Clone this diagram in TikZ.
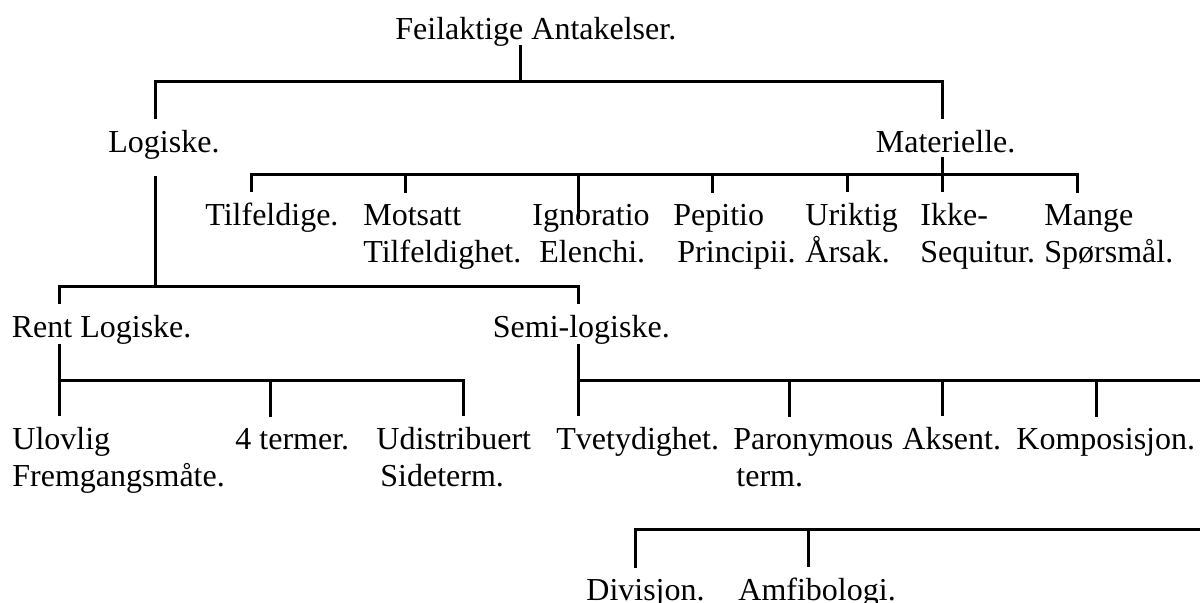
\documentclass[tikz,border=0pt]{standalone}
\usepackage{fontspec}
\setmainfont{Liberation Serif}
\begin{document}
\begin{tikzpicture}[x=0.5pt,y=-0.5pt,
  lbl/.style={anchor=base west,inner xsep=0pt,inner ysep=5.2pt,align=left,font=\fontsize{16}{18.5}\selectfont},
  ln/.style={line width=1.5pt}]
\useasboundingbox (0,0) rectangle (1200,602);
% top level
\node[lbl] (root) at (395,39) {Feilaktige Antakelser.};
\node[lbl] (logiske) at (108,152) {Logiske.};
\node[lbl] (materielle) at (875.5,152) {Materielle.};
\coordinate (root-s) at (520,45);
\coordinate (top-l) at (155,81);
\coordinate (top-r) at (942,81);
\draw[ln] (root-s) -- (root-s |- top-l);
\draw[ln] (logiske.north -| top-l) -- (top-l) -- (top-r) -- (materielle.north -| top-r);
% Materielle (two-line labels sit on their last line)
\node[lbl] (tilf) at (205,225) {Tilfeldige.};
\node[lbl] (mots) at (363,262) {Motsatt\\Tilfeldighet.};
\node[lbl] (ign) at (532,262) {Ignoratio\\\hspace*{3.5pt}Elenchi.};
\node[lbl] (pep) at (673,262) {Pepitio\\\hspace*{2pt}Principii.};
\node[lbl] (urik) at (805,262) {Uriktig\\Årsak.};
\node[lbl] (ikke) at (920,262) {Ikke-\\Sequitur.};
\node[lbl] (mange) at (1044,262) {Mange\\Spørsmål.};
\coordinate (mat-s) at (942,157);
\coordinate (mat-l) at (251,174);
\coordinate (mat-r) at (1077,174);
\coordinate (ign-e) at (578,219);
\draw[ln] (mat-s) -- (ikke.north -| mat-s);
\draw[ln] (tilf.north -| mat-l) -- (mat-l) -- (mat-r) -- (mange.north -| mat-r);
\foreach \n/\x in {mots/405,pep/712,urik/847}
  \draw[ln] (\x,174) -- (\n.north -| \x,174);
\draw[ln] (ign-e |- mat-l) -- (ign-e);
% Logiske
\node[lbl] (rent) at (11.5,337) {Rent Logiske.};
\node[lbl] (semi) at (492.5,337) {Semi-logiske.};
\coordinate (log-s) at (155,176);
\coordinate (log-l) at (59,286);
\coordinate (log-r) at (578,286);
\draw[ln] (log-s) -- (log-s |- log-l);
\draw[ln] (rent.north -| log-l) -- (log-l) -- (log-r) -- (semi.north -| log-r);
% Rent Logiske
\node[lbl] (ulov) at (12,486) {Ulovlig\\Fremgangsmåte.};
\node[lbl] (fire) at (235,449) {4 termer.};
\node[lbl] (udis) at (376,486) {Udistribuert\\\hspace*{2pt}Sideterm.};
\coordinate (rent-s) at (59,344);
\coordinate (rent-r) at (463,380);
\draw[ln] (rent-s) -- (ulov.north -| rent-s);
\draw[ln] (rent-s |- rent-r) -- (rent-r) -- (udis.north -| rent-r);
\draw[ln] (270,380) -- (fire.north -| 270,380);
% Semi-logiske
\node[lbl] (tvet) at (556,449) {Tvetydighet.};
\node[lbl] (paro) at (733,486) {Paronymous\\\hspace*{1.5pt}term.};
\node[lbl] (aks) at (902,449) {Aksent.};
\node[lbl] (komp) at (1016,449) {Komposisjon.};
\coordinate (semi-s) at (578,344);
\coordinate (semi-r) at (1200,380);
\draw[ln] (semi-s) -- (tvet.north -| semi-s);
\draw[ln] (semi-s |- semi-r) -- (semi-r);
\foreach \n/\x in {paro/789,aks/942,komp/1096}
  \draw[ln] (\x,380) -- (\n.north -| \x,380);
% bottom row
\node[lbl] (div) at (586,600) {Divisjon.};
\node[lbl] (amfi) at (738,600) {Amfibologi.};
\coordinate (bot-l) at (635,529);
\coordinate (bot-r) at (1200,529);
\draw[ln] (div.north -| bot-l) -- (bot-l) -- (bot-r);
\draw[ln] (808,529) -- (amfi.north -| 808,529);
\end{tikzpicture}
\end{document}
